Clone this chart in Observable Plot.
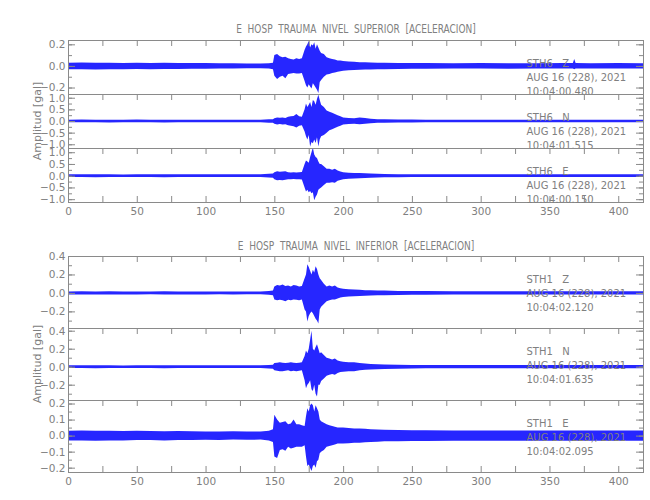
<!DOCTYPE html>
<html>
<head>
<meta charset="utf-8">
<script src="https://cdn.jsdelivr.net/npm/d3@7"></script>
<script src="https://cdn.jsdelivr.net/npm/@observablehq/plot@0.6"></script>
<style>
  body { margin: 0; background: #fff; }
  #chart { position: relative; width: 650px; height: 500px; overflow: hidden; background: #fff;
           font-family: "DejaVu Sans", "Liberation Sans", sans-serif; color: #808080; }
  .panel { position: absolute; left: 0; }
  .title { position: absolute; white-space: nowrap; font-size: 12.5px; color: #808080; word-spacing: 4px;
           transform: translate(-50%, -50%) scaleX(0.72); }
  .ylab { position: absolute; white-space: nowrap; font-size: 11px; color: #808080;
          transform: translate(-50%, -50%) rotate(-90deg); }
</style>
</head>
<body>
<div id="chart"></div>
<script>
// ---------------- data ----------------
const groupTitles = ["E HOSP TRAUMA NIVEL SUPERIOR [ACELERACION]", "E HOSP TRAUMA NIVEL INFERIOR [ACELERACION]"];
const yAxisTitle = "Amplitud [gal]";
const stations = ["STH6", "STH6", "STH6", "STH1", "STH1", "STH1"];
const components = ["Z", "N", "E", "Z", "N", "E"];
const dateLabel = "AUG 16 (228), 2021";
const startTimes = ["10:04:00.480", "10:04:01.515", "10:04:00.150", "10:04:02.120", "10:04:01.635", "10:04:02.095"];

const xTickLabels = [0, 50, 100, 150, 200, 250, 300, 350, 400];
const xMinorTicks = [0, 25, 50, 75, 100, 125, 150, 175, 200, 225, 250, 275, 300, 325, 350, 375, 400];

const yLabelsA = [-0.2, 0, 0.2];
const yMinorA = [-0.2, -0.1, 0, 0.1, 0.2];
const yLabelsB = [-1, -0.5, 0, 0.5, 1];
const yMinorB = [-1, -0.75, -0.5, -0.25, 0, 0.25, 0.5, 0.75, 1];
const yLabelsD = [-0.2, 0, 0.2, 0.4];
const yMinorD = [-0.3, -0.2, -0.1, 0, 0.1, 0.2, 0.3, 0.4];
const yLabelsF = [-0.2, -0.1, 0, 0.1, 0.2];
const yMinorF = [-0.2, -0.15, -0.1, -0.05, 0, 0.05, 0.1, 0.15, 0.2];

// time (s) of each envelope sample
const time = [0,10,20,30,40,50,60,70,80,90,
  100,110,120,130,140,146,149,150,152,154,
  156,158,160,162,164,166,168,170,172,173,
  174,175,176,177,178,179,180,181,182,183,
  184,186,188,190,192,194,196,198,200,204,
  208,212,216,220,225,230,240,250,260,280,
  300,320,340,360,367,368,369,380,400,418];

// envelope (max / min) of each trace (gal)
const sth6Z_max = [0.030,0.032,0.030,0.030,0.028,0.030,0.028,0.030,0.027,0.028,
  0.026,0.025,0.024,0.022,0.022,0.025,0.030,0.100,0.110,0.090,
  0.080,0.085,0.070,0.065,0.060,0.070,0.065,0.070,0.150,0.180,
  0.200,0.230,0.170,0.200,0.190,0.220,0.160,0.200,0.170,0.140,
  0.120,0.110,0.080,0.070,0.065,0.060,0.050,0.050,0.045,0.040,
  0.038,0.035,0.035,0.032,0.030,0.030,0.028,0.028,0.026,0.025,
  0.026,0.025,0.025,0.026,0.026,0.065,0.026,0.025,0.026,0.025];
const sth6Z_min = [-0.030,-0.030,-0.032,-0.030,-0.030,-0.028,-0.030,-0.028,-0.028,-0.027,
  -0.026,-0.025,-0.023,-0.022,-0.022,-0.025,-0.030,-0.090,-0.120,-0.100,
  -0.090,-0.115,-0.075,-0.070,-0.065,-0.070,-0.070,-0.065,-0.140,-0.180,
  -0.200,-0.170,-0.190,-0.210,-0.160,-0.180,-0.200,-0.220,-0.250,-0.150,
  -0.130,-0.100,-0.080,-0.075,-0.065,-0.060,-0.055,-0.050,-0.045,-0.040,
  -0.038,-0.035,-0.034,-0.032,-0.030,-0.030,-0.028,-0.027,-0.026,-0.025,
  -0.025,-0.026,-0.025,-0.025,-0.025,-0.030,-0.025,-0.025,-0.025,-0.025];

const sth6N_max = [0.055,0.060,0.055,0.050,0.055,0.060,0.055,0.050,0.055,0.055,
  0.055,0.055,0.055,0.055,0.055,0.070,0.080,0.120,0.150,0.140,
  0.150,0.130,0.180,0.200,0.220,0.300,0.200,0.180,0.500,0.750,
  0.600,0.700,0.820,0.600,0.900,0.850,0.700,0.950,1.130,0.900,
  0.700,0.600,0.450,0.400,0.350,0.300,0.250,0.200,0.150,0.130,
  0.120,0.150,0.130,0.100,0.080,0.070,0.060,0.060,0.055,0.055,
  0.055,0.055,0.055,0.055,0.055,0.055,0.055,0.055,0.055,0.055];
const sth6N_min = [-0.055,-0.050,-0.055,-0.060,-0.055,-0.050,-0.055,-0.060,-0.055,-0.055,
  -0.055,-0.055,-0.055,-0.055,-0.055,-0.070,-0.080,-0.120,-0.150,-0.130,
  -0.150,-0.140,-0.180,-0.200,-0.230,-0.280,-0.200,-0.180,-0.450,-0.650,
  -0.800,-0.600,-1.100,-0.900,-0.960,-0.800,-0.950,-0.700,-1.100,-0.800,
  -0.650,-0.600,-0.500,-0.400,-0.350,-0.300,-0.250,-0.200,-0.150,-0.130,
  -0.120,-0.140,-0.120,-0.100,-0.080,-0.070,-0.060,-0.060,-0.055,-0.055,
  -0.055,-0.055,-0.055,-0.055,-0.055,-0.055,-0.055,-0.055,-0.055,-0.055];

const sth6E_max = [0.060,0.065,0.060,0.060,0.055,0.060,0.065,0.060,0.060,0.060,
  0.060,0.060,0.060,0.060,0.060,0.080,0.090,0.150,0.190,0.170,
  0.180,0.190,0.150,0.140,0.150,0.140,0.150,0.160,0.500,0.650,
  0.600,0.550,0.800,1.000,1.200,0.900,0.800,0.750,0.600,0.500,
  0.500,0.400,0.300,0.300,0.250,0.300,0.220,0.180,0.150,0.130,
  0.120,0.110,0.100,0.090,0.080,0.070,0.065,0.060,0.060,0.060,
  0.060,0.060,0.060,0.060,0.060,0.060,0.060,0.060,0.060,0.060];
const sth6E_min = [-0.060,-0.060,-0.065,-0.060,-0.060,-0.055,-0.060,-0.065,-0.060,-0.060,
  -0.060,-0.060,-0.060,-0.060,-0.060,-0.080,-0.090,-0.150,-0.190,-0.180,
  -0.190,-0.170,-0.150,-0.150,-0.140,-0.150,-0.150,-0.160,-0.500,-0.670,
  -0.600,-0.700,-0.650,-0.750,-0.700,-1.050,-0.900,-0.800,-0.600,-0.550,
  -0.500,-0.400,-0.300,-0.300,-0.280,-0.300,-0.220,-0.180,-0.150,-0.130,
  -0.120,-0.110,-0.100,-0.090,-0.080,-0.070,-0.065,-0.060,-0.060,-0.060,
  -0.060,-0.060,-0.060,-0.060,-0.060,-0.060,-0.060,-0.060,-0.060,-0.060];

const sth1Z_max = [0.016,0.018,0.016,0.017,0.016,0.015,0.016,0.017,0.016,0.016,
  0.016,0.015,0.015,0.016,0.015,0.020,0.025,0.070,0.085,0.080,
  0.090,0.075,0.080,0.070,0.085,0.080,0.070,0.075,0.160,0.200,
  0.310,0.280,0.240,0.200,0.250,0.220,0.290,0.260,0.200,0.160,
  0.140,0.100,0.070,0.080,0.070,0.080,0.060,0.050,0.045,0.040,
  0.036,0.035,0.030,0.028,0.026,0.025,0.022,0.020,0.020,0.018,
  0.017,0.017,0.017,0.017,0.017,0.017,0.017,0.017,0.017,0.017];
const sth1Z_min = [-0.016,-0.016,-0.018,-0.016,-0.017,-0.016,-0.015,-0.016,-0.016,-0.017,
  -0.016,-0.015,-0.016,-0.015,-0.015,-0.020,-0.025,-0.070,-0.080,-0.075,
  -0.080,-0.090,-0.075,-0.080,-0.070,-0.075,-0.080,-0.070,-0.180,-0.200,
  -0.310,-0.250,-0.220,-0.200,-0.220,-0.250,-0.280,-0.300,-0.330,-0.180,
  -0.150,-0.120,-0.090,-0.080,-0.070,-0.070,-0.060,-0.050,-0.045,-0.040,
  -0.036,-0.034,-0.030,-0.028,-0.026,-0.025,-0.022,-0.020,-0.020,-0.018,
  -0.017,-0.017,-0.017,-0.017,-0.017,-0.017,-0.017,-0.017,-0.017,-0.017];

const sth1N_max = [0.015,0.016,0.015,0.015,0.014,0.015,0.016,0.015,0.015,0.015,
  0.015,0.015,0.015,0.015,0.015,0.020,0.022,0.040,0.045,0.050,
  0.045,0.040,0.045,0.050,0.045,0.040,0.045,0.050,0.120,0.180,
  0.150,0.200,0.300,0.400,0.200,0.180,0.220,0.250,0.200,0.150,
  0.160,0.130,0.100,0.090,0.080,0.090,0.070,0.060,0.055,0.050,
  0.050,0.040,0.035,0.030,0.028,0.025,0.022,0.020,0.018,0.018,
  0.018,0.018,0.018,0.018,0.018,0.018,0.018,0.018,0.018,0.018];
const sth1N_min = [-0.015,-0.015,-0.016,-0.015,-0.015,-0.014,-0.015,-0.016,-0.015,-0.015,
  -0.015,-0.015,-0.015,-0.015,-0.015,-0.020,-0.022,-0.040,-0.045,-0.050,
  -0.050,-0.045,-0.040,-0.050,-0.045,-0.050,-0.045,-0.040,-0.150,-0.240,
  -0.200,-0.180,-0.150,-0.250,-0.270,-0.200,-0.300,-0.330,-0.200,-0.200,
  -0.160,-0.130,-0.100,-0.090,-0.080,-0.090,-0.070,-0.060,-0.055,-0.050,
  -0.050,-0.040,-0.035,-0.030,-0.028,-0.025,-0.022,-0.020,-0.018,-0.018,
  -0.018,-0.018,-0.018,-0.018,-0.018,-0.018,-0.018,-0.018,-0.018,-0.018];

const sth1E_max = [0.030,0.032,0.030,0.030,0.028,0.030,0.028,0.027,0.028,0.027,
  0.026,0.026,0.027,0.025,0.026,0.030,0.040,0.130,0.100,0.080,
  0.085,0.090,0.070,0.075,0.100,0.070,0.070,0.065,0.060,0.120,
  0.170,0.150,0.190,0.200,0.190,0.150,0.190,0.170,0.150,0.100,
  0.090,0.080,0.070,0.065,0.060,0.055,0.050,0.050,0.050,0.048,
  0.045,0.045,0.042,0.040,0.038,0.036,0.035,0.034,0.033,0.032,
  0.032,0.032,0.032,0.032,0.032,0.032,0.032,0.032,0.032,0.032];
const sth1E_min = [-0.030,-0.030,-0.032,-0.030,-0.030,-0.028,-0.028,-0.030,-0.027,-0.028,
  -0.026,-0.027,-0.025,-0.026,-0.025,-0.030,-0.040,-0.130,-0.140,-0.090,
  -0.085,-0.095,-0.070,-0.080,-0.075,-0.070,-0.070,-0.070,-0.060,-0.130,
  -0.190,-0.180,-0.200,-0.220,-0.190,-0.180,-0.200,-0.160,-0.150,-0.110,
  -0.100,-0.090,-0.070,-0.065,-0.060,-0.055,-0.050,-0.050,-0.050,-0.048,
  -0.045,-0.045,-0.042,-0.040,-0.038,-0.036,-0.035,-0.034,-0.033,-0.032,
  -0.032,-0.032,-0.032,-0.032,-0.032,-0.032,-0.032,-0.032,-0.032,-0.032];

// ---------------- layout ----------------
const W = 650, ML = 68, MR = 7;
const PW = W - ML - MR;
const GRAY = "#8a8a8a", TXT = "#808080", BLUE = "#0000ff";

const panels = [
  {max: sth6Z_max, min: sth6Z_min, domain: [-0.26, 0.24], labels: yLabelsA, minor: yMinorA, top: 40, h: 54, xAxis: false},
  {max: sth6N_max, min: sth6N_min, domain: [-1.16, 1.16], labels: yLabelsB, minor: yMinorB, top: 94, h: 54, xAxis: false},
  {max: sth6E_max, min: sth6E_min, domain: [-1.12, 1.18], labels: yLabelsB, minor: yMinorB, top: 148, h: 54, xAxis: true},
  {max: sth1Z_max, min: sth1Z_min, domain: [-0.38, 0.40], labels: yLabelsD, minor: yMinorD, top: 256, h: 72, xAxis: false},
  {max: sth1N_max, min: sth1N_min, domain: [-0.37, 0.43], labels: yLabelsD, minor: yMinorD, top: 328, h: 72, xAxis: false},
  {max: sth1E_max, min: sth1E_min, domain: [-0.227, 0.222], labels: yLabelsF, minor: yMinorF, top: 400, h: 72, xAxis: true}
];

const chart = document.getElementById("chart");

panels.forEach((p, i) => {
  const rows = time.map((t, k) => ({t, hi: p.max[k], lo: p.min[k]}));
  const note = [stations[i] + "\u00a0\u00a0\u00a0" + components[i] + "\n" + dateLabel + "\n" + startTimes[i]];
  const marks = [
    Plot.areaY(rows, {x: "t", y1: "lo", y2: "hi", fill: BLUE, fillOpacity: 0.85, clip: true}),
    // inward ticks on the left / right edges
    Plot.tickY(p.minor, {y: d => d, stroke: GRAY, strokeWidth: 1, insetRight: PW - 4}),
    Plot.tickY(p.labels, {y: d => d, stroke: GRAY, strokeWidth: 1, insetRight: PW - 7}),
    Plot.tickY(p.minor, {y: d => d, stroke: GRAY, strokeWidth: 1, insetLeft: PW - 4}),
    Plot.tickY(p.labels, {y: d => d, stroke: GRAY, strokeWidth: 1, insetLeft: PW - 7}),
    // inward ticks on the top edge
    Plot.tickX(xMinorTicks, {x: d => d, stroke: GRAY, strokeWidth: 1, insetBottom: p.h - 6}),
    Plot.frame({stroke: GRAY, strokeWidth: 1}),
    Plot.text(note, {frameAnchor: "top-left", dx: 458, dy: 36, textAnchor: "start", lineAnchor: "middle",
                     lineHeight: 1.43, fill: TXT, fontSize: 10})
  ];
  if (p.xAxis) {
    marks.push(Plot.tickX(xMinorTicks, {x: d => d, stroke: GRAY, strokeWidth: 1, insetTop: p.h - 6}));
  }
  const svg = Plot.plot({
    width: W, height: p.h,
    marginLeft: ML, marginRight: MR, marginTop: 0, marginBottom: 0,
    x: {domain: [0, 418], axis: p.xAxis ? "bottom" : null, ticks: xTickLabels, tickSize: 0, tickPadding: 5,
        tickFormat: d => String(d), label: null},
    y: {domain: p.domain, axis: "left", ticks: p.labels, tickSize: 0, tickPadding: 3, tickFormat: ".1f", label: null},
    style: {background: "transparent", overflow: "visible", color: TXT,
            fontFamily: '"DejaVu Sans", "Liberation Sans", sans-serif', fontSize: "10.5px"},
    marks
  });
  svg.classList.add("panel");
  svg.style.top = p.top + "px";
  svg.style.position = "absolute";
  svg.style.left = "0px";
  chart.appendChild(svg);
});

// group titles and y-axis titles
const titleY = [28, 245];
const ylabY = [121, 364];
groupTitles.forEach((t, g) => {
  const d = document.createElement("div");
  d.className = "title";
  d.textContent = t;
  d.style.left = (ML + PW / 2) + "px";
  d.style.top = titleY[g] + "px";
  chart.appendChild(d);
  const y = document.createElement("div");
  y.className = "ylab";
  y.textContent = yAxisTitle;
  y.style.left = "37px";
  y.style.top = ylabY[g] + "px";
  chart.appendChild(y);
});
</script>
</body>
</html>
